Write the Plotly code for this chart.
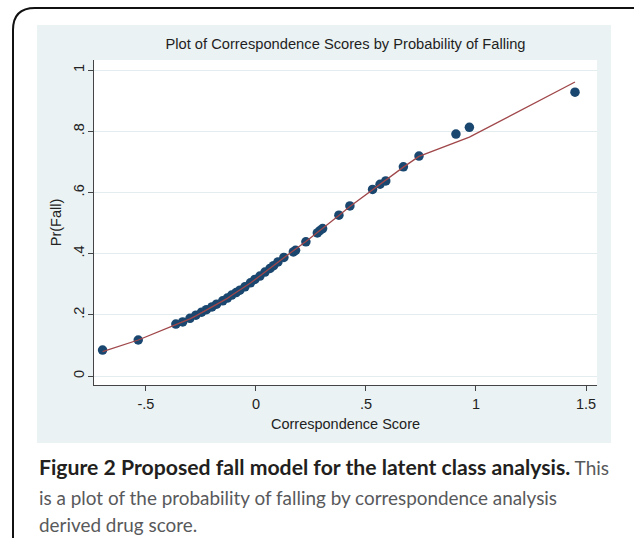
import plotly.graph_objects as go

# Data
score = [-0.697, -0.535, -0.364, -0.333, -0.300, -0.273, -0.247, -0.225, -0.200, -0.179,
         -0.151, -0.130, -0.110, -0.090, -0.073, -0.050, -0.025, -0.005, 0.018, 0.041,
         0.064, 0.080, 0.100, 0.127, 0.170, 0.180, 0.227, 0.279, 0.290, 0.303,
         0.377, 0.427, 0.530, 0.564, 0.590, 0.670, 0.741, 0.909, 0.970, 1.450]
pr_fall = [0.085, 0.118, 0.170, 0.177, 0.189, 0.199, 0.209, 0.217, 0.226, 0.235,
           0.246, 0.255, 0.265, 0.273, 0.281, 0.292, 0.305, 0.316, 0.327, 0.340,
           0.352, 0.361, 0.373, 0.388, 0.406, 0.411, 0.439, 0.468, 0.475, 0.482,
           0.526, 0.556, 0.610, 0.627, 0.638, 0.684, 0.719, 0.791, 0.813, 0.928]
fitted = [0.080, 0.118, 0.168, 0.176, 0.187, 0.197, 0.207, 0.216, 0.225, 0.234,
          0.245, 0.254, 0.264, 0.273, 0.281, 0.292, 0.304, 0.315, 0.327, 0.339,
          0.351, 0.360, 0.372, 0.387, 0.409, 0.414, 0.440, 0.469, 0.475, 0.482,
          0.525, 0.554, 0.609, 0.627, 0.640, 0.683, 0.718, 0.763, 0.781, 0.961]

x_ticks = [-0.5, 0, 0.5, 1, 1.5]
x_ticklabels = ["-.5", "0", ".5", "1", "1.5"]
y_ticks = [0, 0.2, 0.4, 0.6, 0.8, 1]
y_ticklabels = ["0", ".2", ".4", ".6", ".8", "1"]

W, H = 634, 538
L, R, T, B = 94, 597, 60, 385  # plot area in pixels


def px(xp):
    return (xp - L) / (R - L)


def py(yp):
    return (B - yp) / (B - T)


fig = go.Figure()
fig.add_trace(go.Scatter(x=score, y=pr_fall, mode="markers",
                         marker=dict(color="#1a476f", size=9.5, line=dict(width=0)),
                         showlegend=False))
fig.add_trace(go.Scatter(x=score, y=fitted, mode="lines",
                         line=dict(color="#a0474a", width=1.3),
                         showlegend=False))

base_font = "Liberation Sans, Arial, sans-serif"

fig.update_layout(
    width=W, height=H,
    margin=dict(l=L, r=W - R, t=T, b=H - B, autoexpand=False),
    paper_bgcolor="white",
    plot_bgcolor="white",
    font=dict(family=base_font, size=14, color="#222"),
    title=dict(text="Plot of Correspondence Scores by Probability of Falling",
               x=0.5, xref="paper", y=1 - 44 / H, yref="container",
               xanchor="center", yanchor="middle",
               font=dict(family=base_font, size=14.7, color="#1f1f1f")),
    xaxis=dict(range=[-0.736, 1.55], tickvals=x_ticks, ticktext=x_ticklabels,
               ticks="outside", ticklen=5, tickwidth=1, tickcolor="#444",
               showline=True, linecolor="#444", linewidth=1.2,
               showgrid=False, zeroline=False,
               tickfont=dict(size=14.5, color="#222"),
               title=dict(text="Correspondence Score", standoff=8,
                          font=dict(size=14.5, color="#222"))),
    yaxis=dict(range=[-0.029, 1.033], tickvals=y_ticks, ticktext=y_ticklabels,
               tickangle=-90, ticklabelstandoff=-2,
               ticks="outside", ticklen=5, tickwidth=1, tickcolor="#444",
               showline=True, linecolor="#444", linewidth=1.2,
               showgrid=True, gridcolor="#e3ecee", gridwidth=1, zeroline=False,
               tickfont=dict(size=14.5, color="#222"),
               title=dict(text="Pr(Fall)", standoff=6,
                          font=dict(size=14.5, color="#222"))),
)

# Graph region panel (light blue) with a hole where the white plot region is
outer = f"M {px(37)},{py(25)} L {px(611)},{py(25)} L {px(611)},{py(443)} L {px(37)},{py(443)} Z"
inner = f"M 0,1 L 0,0 L 1,0 L 1,1 Z"
fig.add_shape(type="path", xref="paper", yref="paper", path=outer + " " + inner,
              fillcolor="#eaf2f3", line=dict(width=0), layer="below")

# Outer rounded frame
path = (f"M {px(13)},{py(545)} L {px(13)},{py(30)} "
        f"Q {px(13)},{py(8)} {px(35)},{py(8)} L {px(640)},{py(8)}")
fig.add_shape(type="path", xref="paper", yref="paper", path=path,
              line=dict(color="#111", width=2), layer="above")

cap_font = "Lato, Noto Sans, sans-serif"
fig.add_annotation(xref="paper", yref="paper", x=px(37), y=py(467),
                   xanchor="left", yanchor="middle", showarrow=False,
                   text="<span style='font-size:21.2px'><b>Figure 2 Proposed fall model for the latent class analysis.</b></span>"
                        "<span style='color:#58595b'> This</span>",
                   font=dict(family=cap_font, size=19, color="#231f20"))
fig.add_annotation(xref="paper", yref="paper", x=px(37), y=py(497),
                   xanchor="left", yanchor="middle", showarrow=False,
                   text="is a plot of the probability of falling by correspondence analysis",
                   font=dict(family=cap_font, size=18.9, color="#58595b"))
fig.add_annotation(xref="paper", yref="paper", x=px(37), y=py(524),
                   xanchor="left", yanchor="middle", showarrow=False,
                   text="derived drug score.",
                   font=dict(family=cap_font, size=18.9, color="#58595b"))

fig.write_html("out.html", config={"displayModeBar": False},
               post_script="document.body.style.margin='0';")
